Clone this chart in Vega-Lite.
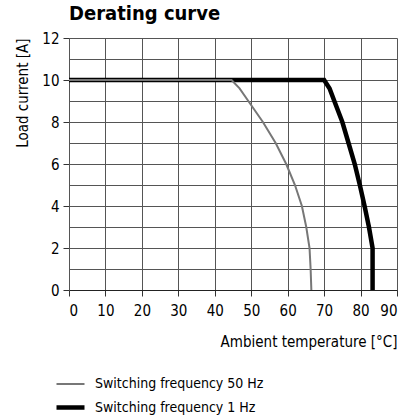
{
  "$schema": "https://vega.github.io/schema/vega-lite/v6.json",
  "autosize": "none",
  "width": 328,
  "height": 252,
  "padding": {"left": 69, "top": 38, "right": 19, "bottom": 126},
  "background": "white",
  "config": {
    "font": "DejaVu Sans Condensed, sans-serif",
    "view": {"stroke": null}
  },
  "title": {
    "text": "Derating curve",
    "anchor": "start",
    "frame": "group",
    "orient": "top",
    "offset": 7,
    "fontSize": 20,
    "fontWeight": "bold",
    "color": "black",
    "font": "DejaVu Sans Condensed, sans-serif"
  },
  "data": {
    "values": [
      {"series": "Switching frequency 1 Hz", "i": 0, "t": 0, "a": 10},
      {"series": "Switching frequency 1 Hz", "i": 1, "t": 70, "a": 10},
      {"series": "Switching frequency 1 Hz", "i": 2, "t": 71.5, "a": 9.6},
      {"series": "Switching frequency 1 Hz", "i": 3, "t": 72.8, "a": 9},
      {"series": "Switching frequency 1 Hz", "i": 4, "t": 75, "a": 8},
      {"series": "Switching frequency 1 Hz", "i": 5, "t": 76.7, "a": 7},
      {"series": "Switching frequency 1 Hz", "i": 6, "t": 78.4, "a": 6},
      {"series": "Switching frequency 1 Hz", "i": 7, "t": 79.8, "a": 5},
      {"series": "Switching frequency 1 Hz", "i": 8, "t": 81.1, "a": 4},
      {"series": "Switching frequency 1 Hz", "i": 9, "t": 82.3, "a": 3},
      {"series": "Switching frequency 1 Hz", "i": 10, "t": 83.3, "a": 2},
      {"series": "Switching frequency 1 Hz", "i": 11, "t": 83.3, "a": 0},
      {"series": "Switching frequency 50 Hz", "i": 0, "t": 0, "a": 10},
      {"series": "Switching frequency 50 Hz", "i": 1, "t": 44.6, "a": 10},
      {"series": "Switching frequency 50 Hz", "i": 2, "t": 46.8, "a": 9.6},
      {"series": "Switching frequency 50 Hz", "i": 3, "t": 49.2, "a": 9},
      {"series": "Switching frequency 50 Hz", "i": 4, "t": 53.2, "a": 8},
      {"series": "Switching frequency 50 Hz", "i": 5, "t": 56.7, "a": 7},
      {"series": "Switching frequency 50 Hz", "i": 6, "t": 59.6, "a": 6},
      {"series": "Switching frequency 50 Hz", "i": 7, "t": 62, "a": 5},
      {"series": "Switching frequency 50 Hz", "i": 8, "t": 63.9, "a": 4},
      {"series": "Switching frequency 50 Hz", "i": 9, "t": 65.1, "a": 3},
      {"series": "Switching frequency 50 Hz", "i": 10, "t": 66, "a": 2},
      {"series": "Switching frequency 50 Hz", "i": 11, "t": 66.3, "a": 1},
      {"series": "Switching frequency 50 Hz", "i": 12, "t": 66.5, "a": 0}
    ]
  },
  "mark": {"type": "line", "strokeCap": "butt", "clip": false},
  "encoding": {
    "x": {
      "field": "t",
      "type": "quantitative",
      "scale": {"domain": [0, 90], "nice": false},
      "axis": {
        "title": "Ambient temperature [°C]",
        "values": [0, 10, 20, 30, 40, 50, 60, 70, 80, 90],
        "grid": true,
        "gridColor": "#555555",
        "gridWidth": 1,
        "gridOpacity": 1,
        "domainColor": "#222222",
        "domainWidth": 1.2,
        "tickColor": "#333333",
        "tickSize": 6,
        "labelPadding": 7,
        "labelFontSize": 15,
        "labelColor": "black",
        "titleFontSize": 15,
        "titleFontWeight": "normal",
        "titleColor": "black",
        "titleAnchor": "end",
        "titlePadding": 16
      }
    },
    "y": {
      "field": "a",
      "type": "quantitative",
      "scale": {"domain": [0, 12], "nice": false},
      "axis": {
        "title": "Load current [A]",
        "values": [0, 1, 2, 3, 4, 5, 6, 7, 8, 9, 10, 11, 12],
        "labelExpr": "datum.value % 2 == 0 ? datum.label : ''",
        "tickOpacity": {"condition": {"test": "datum.value % 2 == 0", "value": 1}, "value": 0},
        "grid": true,
        "gridColor": "#555555",
        "gridWidth": 1,
        "gridOpacity": 1,
        "domainColor": "#555555",
        "tickColor": "#333333",
        "tickSize": 6,
        "labelPadding": 4,
        "labelFontSize": 15,
        "labelColor": "black",
        "titleFontSize": 15,
        "titleFontWeight": "normal",
        "titleColor": "black",
        "titleAnchor": "end",
        "titlePadding": 11
      }
    },
    "order": {"field": "i", "type": "quantitative"},
    "color": {
      "field": "series",
      "type": "nominal",
      "scale": {
        "domain": ["Switching frequency 50 Hz", "Switching frequency 1 Hz"],
        "range": ["#777777", "#000000"]
      },
      "legend": {
        "title": null,
        "orient": "none",
        "legendX": -15,
        "legendY": 331,
        "symbolType": "stroke",
        "symbolSize": 784,
        "labelFontSize": 14,
        "labelLimit": 300,
        "labelColor": "black",
        "labelOffset": 8,
        "rowPadding": -7
      }
    },
    "strokeWidth": {
      "field": "series",
      "type": "nominal",
      "scale": {
        "domain": ["Switching frequency 50 Hz", "Switching frequency 1 Hz"],
        "range": [2, 4.5]
      },
      "legend": {
        "title": null,
        "orient": "none",
        "legendX": -15,
        "legendY": 331,
        "symbolType": "stroke",
        "symbolSize": 784,
        "labelFontSize": 14,
        "labelLimit": 300,
        "labelColor": "black",
        "labelOffset": 8,
        "rowPadding": -7
      }
    }
  }
}
